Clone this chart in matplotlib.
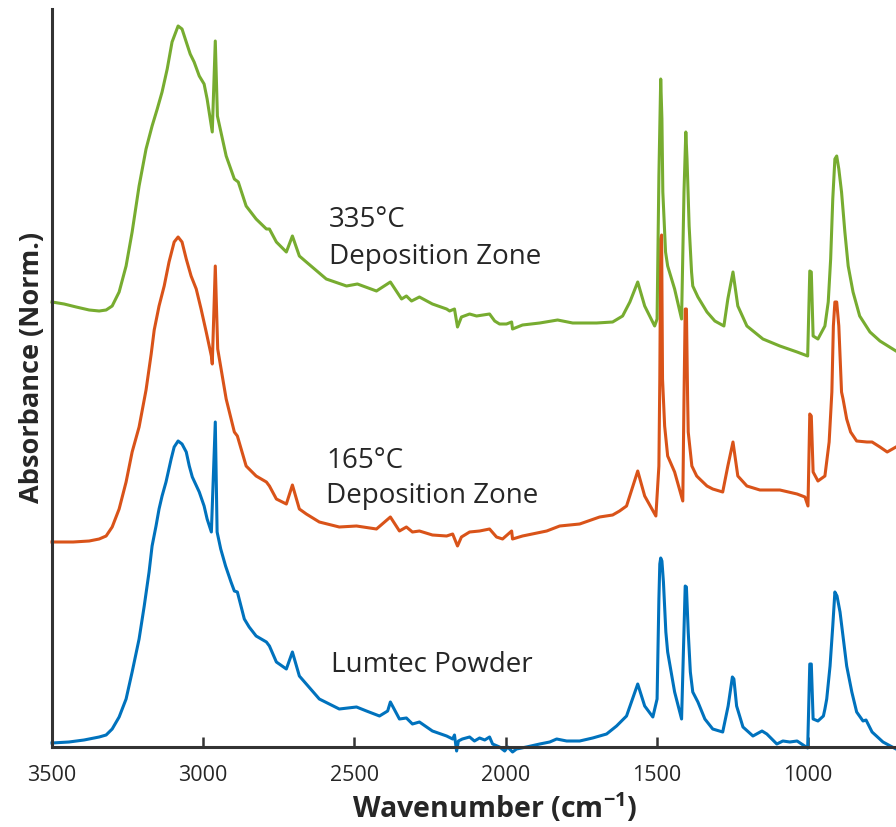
import matplotlib
matplotlib.use("Agg")
import matplotlib.pyplot as plt

plt.rcParams['font.family'] = ['Open Sans', 'DejaVu Sans']
plt.rcParams['mathtext.fontset'] = 'custom'
plt.rcParams['mathtext.rm'] = 'Open Sans'
plt.rcParams['mathtext.bf'] = 'Open Sans:bold'

# Lumtec powder (reference spectrum)
wn_powder = [3500, 3444, 3394, 3344, 3321, 3301, 3278, 3255, 3235, 3212, 3195, 3179,
             3169, 3156, 3146, 3136, 3123, 3106, 3096, 3083, 3070, 3056, 3046, 3036,
             3013, 2997, 2987, 2973, 2960, 2954, 2942, 2926, 2908, 2897, 2887, 2875,
             2864, 2848, 2825, 2791, 2781, 2758, 2725, 2705, 2682, 2659, 2616, 2550,
             2493, 2460, 2417, 2390, 2381, 2351, 2328, 2308, 2285, 2242, 2195, 2175,
             2169, 2162, 2156, 2143, 2119, 2103, 2086, 2069, 2053, 2043, 2020, 2003,
             1993, 1977, 1964, 1931, 1887, 1854, 1831, 1798, 1755, 1712, 1666, 1633,
             1600, 1563, 1540, 1513, 1499, 1493, 1490, 1487, 1483, 1478, 1470, 1464,
             1441, 1418, 1410, 1406, 1402, 1396, 1389, 1381, 1364, 1341, 1315, 1282,
             1264, 1250, 1245, 1236, 1215, 1182, 1152, 1136, 1103, 1083, 1060, 1036,
             1001, 994, 989, 983, 967, 949, 944, 938, 927, 918, 911, 904, 894, 883,
             872, 855, 839, 818, 808, 788, 752, 709, 690]
abs_powder = [0.04, 0.05, 0.07, 0.10, 0.12, 0.18, 0.30, 0.48, 0.75, 1.08, 1.41, 1.75,
              2.01, 2.21, 2.38, 2.51, 2.65, 2.88, 3.00, 3.06, 3.03, 2.95, 2.81, 2.70,
              2.55, 2.41, 2.28, 2.15, 3.25, 2.15, 1.98, 1.81, 1.65, 1.56, 1.55, 1.41,
              1.28, 1.20, 1.11, 1.05, 1.01, 0.85, 0.78, 0.95, 0.71, 0.63, 0.48, 0.38,
              0.40, 0.36, 0.31, 0.36, 0.45, 0.28, 0.29, 0.23, 0.25, 0.16, 0.11, 0.08,
              0.12, -0.04, 0.06, 0.08, 0.10, 0.06, 0.09, 0.07, 0.10, 0.03, 0.00, -0.04,
              0.00, -0.05, -0.02, 0.00, 0.03, 0.05, 0.08, 0.06, 0.06, 0.09, 0.13, 0.21,
              0.31, 0.63, 0.41, 0.30, 0.48, 1.48, 1.83, 1.89, 1.86, 1.65, 1.15, 0.95,
              0.55, 0.28, 1.15, 1.61, 1.60, 1.15, 0.75, 0.55, 0.45, 0.28, 0.18, 0.15,
              0.41, 0.70, 0.68, 0.41, 0.20, 0.11, 0.16, 0.13, 0.03, 0.06, 0.05, 0.06,
              -0.01, 0.83, 0.83, 0.28, 0.26, 0.31, 0.38, 0.48, 0.81, 1.21, 1.55, 1.51,
              1.35, 1.08, 0.81, 0.55, 0.35, 0.26, 0.27, 0.15, 0.05, -0.02, -0.04]

# film from the 165 °C deposition zone
wn_165 = [3500, 3430, 3377, 3344, 3321, 3301, 3278, 3255, 3235, 3212, 3189, 3172,
          3162, 3146, 3129, 3113, 3096, 3083, 3070, 3056, 3040, 3023, 3007, 2990,
          2973, 2970, 2960, 2952, 2924, 2897, 2887, 2858, 2825, 2791, 2781, 2758,
          2725, 2705, 2682, 2659, 2616, 2550, 2493, 2427, 2381, 2351, 2328, 2308,
          2285, 2242, 2195, 2175, 2159, 2146, 2119, 2086, 2053, 2030, 2010, 1980,
          1977, 1944, 1864, 1821, 1755, 1689, 1646, 1623, 1600, 1563, 1540, 1503,
          1493, 1490, 1487, 1484, 1481, 1474, 1464, 1441, 1414, 1410, 1406, 1402,
          1398, 1396, 1384, 1368, 1358, 1334, 1315, 1282, 1265, 1248, 1232, 1202,
          1159, 1093, 1036, 1010, 1000, 994, 989, 983, 967, 944, 930, 921, 916,
          911, 905, 898, 889, 884, 872, 859, 839, 805, 788, 762, 738, 709, 690]
abs_165 = [0.00, 0.00, 0.01, 0.03, 0.06, 0.15, 0.33, 0.60, 0.90, 1.15, 1.52, 1.88,
           2.12, 2.36, 2.56, 2.80, 3.00, 3.05, 3.00, 2.83, 2.66, 2.53, 2.33, 2.10,
           1.86, 1.78, 2.76, 1.93, 1.43, 1.10, 1.06, 0.76, 0.66, 0.60, 0.56, 0.43,
           0.38, 0.57, 0.33, 0.28, 0.20, 0.15, 0.16, 0.13, 0.25, 0.11, 0.15, 0.10,
           0.11, 0.07, 0.06, 0.08, -0.04, 0.05, 0.10, 0.11, 0.13, 0.05, 0.03, 0.11,
           0.03, 0.06, 0.11, 0.16, 0.18, 0.25, 0.27, 0.31, 0.36, 0.71, 0.46, 0.26,
           0.76, 1.63, 3.03, 3.07, 1.63, 1.16, 0.86, 0.70, 0.41, 1.43, 2.33, 2.33,
           1.43, 1.10, 0.76, 0.66, 0.63, 0.56, 0.53, 0.50, 0.76, 1.00, 0.66, 0.56,
           0.52, 0.52, 0.48, 0.45, 0.36, 1.28, 1.26, 0.70, 0.61, 0.66, 1.00, 1.50, 2.16,
           2.40, 2.40, 2.16, 1.50, 1.43, 1.23, 1.10, 1.01, 1.00, 1.00, 0.95, 0.90, 0.95,
           0.98]

# film from the 335 °C deposition zone
wn_335 = [3500, 3460, 3420, 3377, 3344, 3321, 3301, 3278, 3255, 3235, 3212, 3189,
          3169, 3152, 3136, 3119, 3103, 3083, 3070, 3056, 3043, 3030, 3013, 2997,
          2987, 2970, 2960, 2953, 2924, 2897, 2884, 2858, 2825, 2791, 2781, 2758,
          2725, 2705, 2682, 2659, 2593, 2526, 2490, 2427, 2381, 2344, 2328, 2311,
          2285, 2242, 2195, 2185, 2169, 2159, 2146, 2119, 2096, 2053, 2036, 2020,
          1997, 1980, 1977, 1944, 1887, 1828, 1778, 1699, 1646, 1613, 1589, 1563,
          1540, 1507, 1499, 1493, 1487, 1483, 1480, 1471, 1464, 1441, 1418, 1410,
          1404, 1400, 1393, 1385, 1381, 1364, 1334, 1308, 1278, 1265, 1248, 1232,
          1202, 1149, 1093, 1036, 1001, 994, 989, 983, 967, 944, 933, 925, 918, 911,
          905, 898, 889, 878, 867, 851, 829, 795, 762, 709, 690]
abs_335 = [0.02, 0.00, -0.03, -0.06, -0.07, -0.06, -0.02, 0.12, 0.38, 0.72, 1.18, 1.55,
           1.78, 1.95, 2.12, 2.35, 2.62, 2.78, 2.75, 2.62, 2.50, 2.42, 2.28, 2.20,
           2.05, 1.72, 2.63, 1.88, 1.48, 1.25, 1.22, 0.98, 0.85, 0.75, 0.75, 0.62,
           0.52, 0.68, 0.48, 0.42, 0.25, 0.18, 0.20, 0.13, 0.22, 0.05, 0.08, 0.03,
           0.07, 0.00, -0.05, -0.07, -0.05, -0.23, -0.13, -0.10, -0.12, -0.10, -0.17, -0.20,
           -0.20, -0.18, -0.25, -0.21, -0.19, -0.16, -0.19, -0.19, -0.18, -0.12, 0.02, 0.22,
           -0.02, -0.22, -0.15, 1.28, 2.25, 1.85, 1.12, 0.52, 0.38, 0.15, -0.15, 1.12,
           1.72, 1.45, 0.78, 0.32, 0.18, 0.07, -0.08, -0.17, -0.22, 0.05, 0.32, -0.02,
           -0.22, -0.35, -0.42, -0.48, -0.52, 0.33, 0.32, -0.32, -0.35, -0.22, 0.02, 0.45,
           1.05, 1.45, 1.48, 1.35, 1.12, 0.72, 0.38, 0.12, -0.12, -0.28, -0.37, -0.47,
           -0.50]

# vertical stacking of the three traces
offsets = [0.0, 2.05, 4.43]
colors = ['#0072BD', '#D95319', '#77AC30']

fig = plt.figure(figsize=(8.96, 8.28), dpi=100)
ax = fig.add_axes([52 / 896, 80 / 828, 886 / 896, 738 / 828])

spectra = [(wn_powder, abs_powder), (wn_165, abs_165), (wn_335, abs_335)]
for (wn, a), off, c in zip(spectra, offsets, colors):
    ax.plot(wn, [v + off for v in a], color=c, lw=2.2, solid_joinstyle='round',
            clip_on=False)

# labels next to each trace
txt = dict(fontsize=20, color='#262626', va='center', ha='left')
ax.text(2583, 5.28, '335°C', **txt)
ax.text(2583, 4.91, 'Deposition Zone', **txt)
ax.text(2593, 2.87, '165°C', **txt)
ax.text(2593, 2.52, 'Deposition Zone', **txt)
ax.text(2576, 0.83, 'Lumtec Powder', **txt)

ax.set_xlim(3500, 570)
ax.set_ylim(0, 7.38)
ax.set_xticks([3500, 3000, 2500, 2000, 1500, 1000])
ax.set_yticks([])
ax.tick_params(axis='x', direction='in', length=7, width=1.8, color='#333333',
               labelsize=15.5, labelcolor='#262626', pad=12)

ax.spines['top'].set_visible(False)
ax.spines['right'].set_visible(False)
for side in ('left', 'bottom'):
    ax.spines[side].set_linewidth(2.2)
    ax.spines[side].set_color('#333333')
    ax.spines[side].set_zorder(3)

ax.set_xlabel(r'Wavenumber (cm$^{\mathbf{-1}}$)', fontsize=20.5, fontweight='bold',
              color='#262626', labelpad=4)
ax.set_ylabel('Absorbance (Norm.)', fontsize=19.5, fontweight='bold', color='#262626')
ax.yaxis.set_label_coords(-0.008, 0.516)

fig.savefig('out.png', dpi=100)
